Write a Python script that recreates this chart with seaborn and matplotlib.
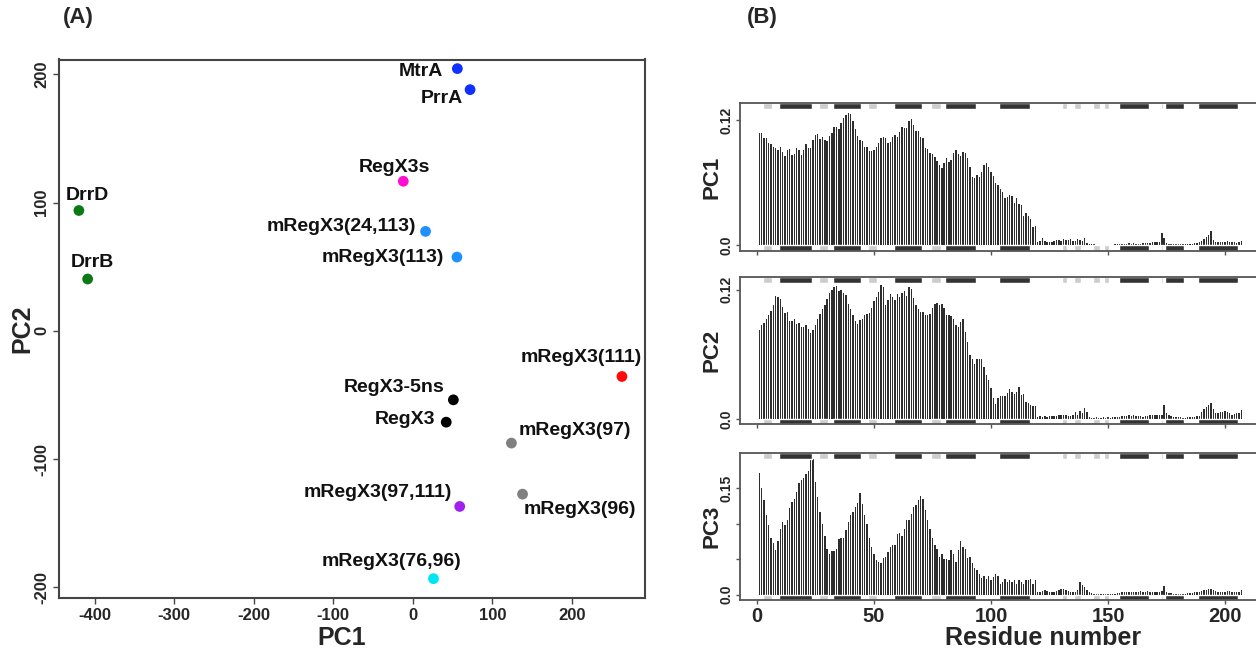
import numpy as np
import pandas as pd
import matplotlib
matplotlib.use("Agg")
import matplotlib.pyplot as plt
import seaborn as sns

sns.set_style("ticks")
plt.rcParams['font.family'] = ['Liberation Sans', 'DejaVu Sans']
plt.rcParams['font.weight'] = 'bold'
plt.rcParams['axes.labelweight'] = 'bold'
plt.rcParams['axes.unicode_minus'] = False

# ---- panel A: PCA scores ----
names = ["MtrA", "PrrA", "RegX3s", "DrrD", "DrrB", "mRegX3(24,113)", "mRegX3(113)",
         "mRegX3(111)", "RegX3-5ns", "RegX3", "mRegX3(97)", "mRegX3(96)",
         "mRegX3(97,111)", "mRegX3(76,96)"]
score_pc1 = [56, 72, -12, -420, -409, 16, 55.5, 263, 51, 42, 124, 138, 59, 26]
score_pc2 = [204.4, 188, 116.6, 93.8, 40.4, 77.5, 57.5, -35.6, -53.8, -71.2,
             -87.5, -127.3, -136.9, -193.2]
point_colors = ["#1030ff", "#1030ff", "#ff10d0", "#0c7a14", "#0c7a14", "#1e90ff",
                "#1e90ff", "#ff0a0a", "black", "black", "#808080", "#808080",
                "#a020f0", "#00e5f5"]

# label offsets in pixels (dx, dy) and horizontal alignment
label_offsets = {
    "MtrA": (-14, -3, "right"), "PrrA": (-7, -9, "right"), "RegX3s": (-9, 14, "center"),
    "DrrD": (8, 15, "center"), "DrrB": (5, 16, "center"),
    "mRegX3(24,113)": (-9, 5, "right"), "mRegX3(113)": (-13, 0, "right"),
    "mRegX3(111)": (-41, 19, "center"), "RegX3-5ns": (-9, 12, "right"),
    "RegX3": (-11, 3, "right"), "mRegX3(97)": (7, 13, "left"),
    "mRegX3(96)": (1, -15, "left"), "mRegX3(97,111)": (-8, 14, "right"),
    "mRegX3(76,96)": (-42, 17, "center"),
}

# ---- panel B: loadings per residue (x 1e-3) ----
residues = list(range(1, 208))

pc1_load = [
    107.4, 108.1, 103.3, 102.6, 97.8, 97.2, 94.0, 93.0, 91.4, 94.6,
    89.8, 85.7, 91.4, 92.1, 86.6, 87.3, 93.7, 91.4, 86.6, 91.4,
    96.9, 93.0, 93.0, 101.0, 105.8, 106.5, 102.3, 103.6, 101.0, 100.1,
    105.2, 107.4, 113.2, 113.2, 111.3, 117.0, 121.8, 125.0, 126.6, 126.0,
    119.6, 111.3, 104.9, 101.0, 100.4, 94.0, 94.0, 90.8, 90.8, 91.4,
    94.6, 97.8, 102.6, 103.6, 102.6, 97.8, 98.8, 103.6, 105.5, 104.2,
    109.0, 113.8, 112.2, 112.2, 119.6, 120.9, 115.4, 110.0, 110.0, 104.2,
    102.6, 93.0, 92.1, 88.2, 87.3, 85.0, 81.2, 77.0, 73.8, 78.6,
    83.4, 80.2, 81.8, 88.2, 91.4, 87.3, 85.7, 89.8, 88.2, 83.4,
    75.4, 65.2, 64.2, 67.4, 65.8, 70.6, 77.0, 78.6, 75.4, 70.6,
    66.5, 59.4, 57.8, 53.6, 51.4, 45.0, 46.6, 48.2, 47.3, 40.8,
    45.0, 39.3, 38.6, 28.0, 31.2, 28.0, 24.9, 17.8, 18.4, 3.4,
    4, 7, 4, 3, 3, 3, 4, 5, 5, 4,
    6, 5, 5, 5.6, 4, 4, 6, 5, 4, 6.5,
    2, 1.5, 1, 1, 0.5, 0.5, 0.5, 0.5, 0.5, 0.5,
    0.5, 0.5, 0.8, 1, 1, 1.5, 1.5, 1.5, 2, 1.5,
    2, 1.5, 1.5, 1.5, 2, 2, 2.5, 2.5, 3, 3,
    3, 3.5, 12, 7, 2.5, 1.5, 1.5, 1, 1, 1,
    1, 1, 1, 1, 1, 1.5, 2, 2.5, 3, 4,
    6, 8, 10, 13.5, 5, 3, 3, 3.5, 3, 3,
    4, 3, 3, 3.5, 2.5, 3, 4,
]

pc2_load = [
    82.2, 87.5, 89.4, 93.1, 96.2, 99.9, 105.5, 113.9, 113.2, 111.1,
    103.9, 98.7, 99.3, 90.6, 90.6, 93.1, 88.4, 89.4, 85.3, 85.3,
    86.9, 83.8, 79.8, 82.2, 87.5, 93.1, 97.7, 101.8, 106.1, 111.7,
    117.3, 119.4, 122.5, 123.5, 118.5, 119.4, 117.3, 114.8, 107.0, 102.4,
    96.2, 90.6, 88.4, 91.5, 93.1, 96.2, 97.7, 98.7, 103.0, 109.2,
    113.2, 117.9, 124.7, 122.5, 105.5, 110.1, 116.3, 113.2, 110.1, 116.3,
    113.2, 117.3, 118.5, 114.2, 122.5, 121.0, 112.3, 105.5, 101.8, 99.3,
    99.3, 96.8, 96.8, 97.7, 103.0, 107.0, 108.0, 105.5, 107.0, 103.0,
    96.2, 96.8, 95.6, 92.5, 86.9, 85.3, 90.0, 93.1, 80.7, 71.4,
    59.0, 55.3, 51.3, 55.3, 55.9, 55.3, 48.2, 40.4, 35.8, 29.0,
    19.0, 14.0, 19.0, 21.0, 21.0, 21.5, 23.7, 27.7, 25.2, 22.7,
    25.2, 29.3, 22.1, 22.7, 15.9, 14.4, 12.8, 12.2, 12.2, 2.0,
    2.5, 2, 2.5, 2, 2.5, 2.5, 3, 3, 3.5, 3.5,
    4, 3.5, 3, 2.5, 4, 6, 4, 7.5, 5, 10,
    6, 1.5, 1, 1, 1.5, 1, 1, 1.5, 1, 1.5,
    1, 1.5, 1.5, 2, 2, 2.5, 3, 3, 3.5, 3,
    3.5, 3, 3, 2.5, 2, 2.5, 3, 3.5, 3.5, 4,
    4, 3.5, 4, 13, 5, 3.5, 2.5, 2, 2, 1.5,
    1.5, 1, 1, 1.5, 1.5, 2, 2, 2.5, 3, 6,
    9, 11, 13, 15, 9, 5, 5.5, 6, 6.5, 7,
    6.5, 5, 4, 4.5, 5, 5.5, 8,
]

pc3_load = [
    171.2, 150.0, 133.4, 112.2, 98.1, 80.6, 73.1, 63.6, 75.9, 93.3,
    102.8, 98.1, 105.1, 121.7, 131.1, 134.4, 145.2, 157.0, 161.7, 164.1,
    170.2, 175.0, 190.0, 191.0, 159.4, 138.2, 116.9, 100.4, 82.5, 65.0,
    58.0, 61.7, 61.7, 65.0, 79.2, 80.6, 80.6, 91.0, 102.8, 112.2,
    116.9, 124.0, 129.7, 142.9, 128.7, 112.2, 100.4, 80.6, 67.4, 57.0,
    48.5, 46.2, 44.8, 52.3, 53.3, 60.3, 67.4, 69.8, 70.7, 86.3,
    87.2, 82.5, 93.3, 106.1, 106.1, 113.6, 124.0, 126.4, 133.4, 139.6,
    134.4, 120.0, 105.0, 92.0, 80.0, 70.0, 65.0, 53.3, 58.0, 50.9,
    50.9, 48.5, 62.7, 58.0, 46.2, 62.7, 75.9, 67.4, 65.0, 52.3,
    53.3, 44.8, 38.2, 34.4, 29.7, 24.0, 25.9, 22.6, 25.9, 20.2,
    25.0, 29.7, 25.9, 14.6, 17.9, 22.6, 17.9, 20.2, 17.9, 20.2,
    15.5, 20.2, 18.0, 15.5, 20.0, 21.0, 21.5, 15.5, 20.0, 4.0,
    4, 5, 6, 5, 4, 3.5, 4, 5, 7, 8,
    8.5, 6, 5, 4, 3, 3.5, 7, 18, 13, 10,
    6, 3, 2, 1.5, 1.5, 1.5, 1.5, 1.5, 1.5, 1.5,
    1.5, 1.5, 1.5, 2, 2.5, 3, 3, 3.5, 4, 4,
    4, 3.5, 4, 4.5, 4, 4, 4.5, 4, 3.5, 4,
    4, 4, 4.5, 12, 3, 2, 2, 1.5, 1.5, 1.5,
    1.5, 1.5, 1.5, 2, 2, 2.5, 3, 3, 4, 5,
    6, 7, 8, 8, 6, 5, 4, 3.5, 3.5, 4,
    4.5, 5, 4, 3.5, 3.5, 4, 6,
]

# secondary structure (start, end residue)
helices = [(10, 24), (33, 45), (59, 71), (81, 94), (104, 117), (155, 168), (175, 183), (189, 206)]
strands = [(3, 7), (27, 31), (48, 52), (75, 79), (131, 133), (136, 139), (144, 147),
           (149, 151), (173, 174)]

W, H = 1256, 651
fig = plt.figure(figsize=(W / 100, H / 100), dpi=100)

# ---------- panel A ----------
axA = fig.add_axes([59 / W, 1 - 598.3 / H, 586 / W, 538.8 / H])
dfA = pd.DataFrame({"name": names, "PC1": score_pc1, "PC2": score_pc2})
sns.scatterplot(data=dfA, x="PC1", y="PC2", hue="name",
                palette=dict(zip(names, point_colors)), s=60, edgecolor="none",
                legend=False, ax=axA)
for n, x, y in zip(names, score_pc1, score_pc2):
    dx, dy, ha = label_offsets[n]
    axA.annotate(n, (x, y), xytext=(dx, dy), textcoords="offset pixels",
                 ha=ha, va="center", fontsize=14, fontweight="bold", color="#111")
axA.set_xlim(-445, 292)
axA.set_ylim(-208.5, 211.5)
axA.set_xticks([-400, -300, -200, -100, 0, 100, 200])
axA.set_yticks([-200, -100, 0, 100, 200])
axA.tick_params(axis="both", labelsize=12, length=4, width=1, color="#444", pad=3)
for lab in axA.get_yticklabels():
    lab.set_rotation(90)
    lab.set_va("center")
for s in axA.spines.values():
    s.set_linewidth(1.5)
    s.set_color("#444")
axA.set_xlabel("PC1", fontsize=18, fontweight="bold", va="center")
axA.set_ylabel("PC2", fontsize=18, fontweight="bold", va="center")
axA.xaxis.set_label_coords(0.483, -0.073)
axA.yaxis.set_label_coords(-0.063, 0.5)

# ---------- panel B ----------
panels = [("PC1", pc1_load, 0.131, [0, 0.12], ["0.0", "0.12"], 103.3, 250.7),
          ("PC2", pc2_load, 0.127, [0, 0.12], ["0.0", "0.12"], 276.7, 424.3),
          ("PC3", pc3_load, 0.192, [0, 0.05, 0.10, 0.15], ["0.0", "", "", "0.15"], 453.3, 600.0)]

for i, (lab, vals, M, yt, ytl, top, bot) in enumerate(panels):
    ax = fig.add_axes([740 / W, 1 - bot / H, 520.7 / W, (bot - top) / H])
    v = np.array(vals) / 1000.0
    sns.barplot(x=residues, y=v, native_scale=True, width=0.6, color="#2e2e2e",
                saturation=1, linewidth=0, errorbar=None, ax=ax)
    for segs, fc in ((helices, "#333333"), (strands, "#cccccc")):
        spans = [(a - 0.5, b - a) for a, b in segs]
        ax.broken_barh(spans, (-0.04 * M, 0.04 * M), facecolors=fc)
        ax.broken_barh(spans, (0.995 * M, 0.045 * M), facecolors=fc)
    ax.set_xlim(-7.24, 215.24)
    ax.set_ylim(-0.04 * M, 1.04 * M)
    ax.set_xticks([0, 50, 100, 150, 200])
    ax.set_yticks(yt)
    ax.set_yticklabels(ytl, rotation=90, va="center", fontsize=10)
    ax.tick_params(axis="both", length=3, width=1, color="#555", pad=2)
    ax.set_ylabel(lab, fontsize=16, fontweight="bold", va="center")
    ax.yaxis.set_label_coords(-0.053, 0.5)
    for s in ax.spines.values():
        s.set_linewidth(1.3)
        s.set_color("#555")
    if i < 2:
        ax.tick_params(axis="x", labelbottom=False)
        ax.set_xlabel("")
    else:
        ax.tick_params(axis="x", labelsize=14.5)
        ax.set_xlabel("Residue number", fontsize=18, fontweight="bold", va="center")
        ax.xaxis.set_label_coords(0.582, -0.26)

fig.text(78 / W, 1 - 18 / H, "(A)", ha="center", va="center", fontsize=16, fontweight="bold")
fig.text(762 / W, 1 - 18 / H, "(B)", ha="center", va="center", fontsize=16, fontweight="bold")

fig.savefig("out.png", dpi=100)
